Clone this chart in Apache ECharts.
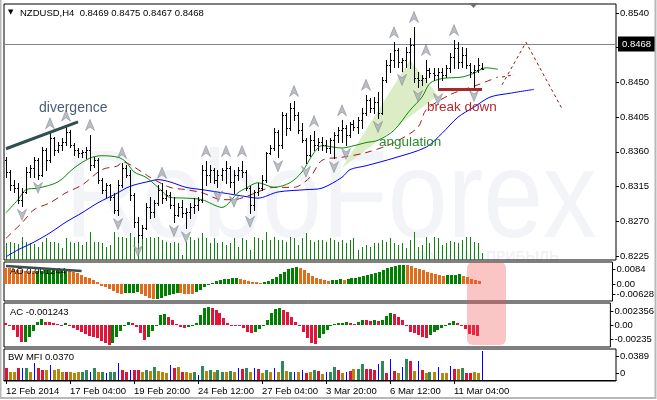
<!DOCTYPE html>
<html><head><meta charset="utf-8">
<script src="https://cdn.jsdelivr.net/npm/echarts@6/dist/echarts.min.js"></script>
<style>html,body{margin:0;padding:0;background:#fff}#c{width:657px;height:400px}</style>
</head><body><div id="c"></div>
<script>
// ---------------- DATA ----------------
const timeLabels = ['12 Feb 2014','17 Feb 04:00','19 Feb 20:00','24 Feb 12:00','27 Feb 04:00','3 Mar 20:00','6 Mar 12:00','11 Mar 04:00'];
const priceLabels = ['0.8540','0.8495','0.8450','0.8405','0.8360','0.8315','0.8270','0.8225'];
const aoTickLabels = ['0.0084','0.00','-0.00628'];
const acTickLabels = ['0.002356','0.00','-0.00235'];
const bwTickLabels = ['0.0389','0'];

const open = [0.8349,0.8334,0.8317,0.8313,0.8298,0.8308,0.8334,0.8339,0.8349,0.8330,0.8362,0.8349,0.8378,0.8362,0.8369,0.8373,0.8386,0.8369,0.8362,0.8359,
0.8360,0.8362,0.8343,0.8349,0.8324,0.8311,0.8317,0.8302,0.8285,0.8317,0.8339,0.8330,0.8304,0.8269,0.8252,0.8261,0.8289,0.8282,0.8294,0.8311,
0.8300,0.8304,0.8291,0.8278,0.8289,0.8281,0.8282,0.8289,0.8291,0.8298,0.8337,0.8330,0.8337,0.8324,0.8330,0.8337,0.8339,0.8321,0.8330,0.8337,
0.8334,0.8313,0.8291,0.8308,0.8313,0.8324,0.8359,0.8365,0.8386,0.8369,0.8408,0.8391,0.8417,0.8408,0.8388,0.8375,0.8356,0.8375,0.8369,0.8373,
0.8369,0.8365,0.8375,0.8382,0.8388,0.8391,0.8382,0.8396,0.8392,0.8401,0.8410,0.8427,0.8417,0.8424,0.8411,0.8453,0.8473,0.8479,0.8492,0.8477,
0.8479,0.8489,0.8499,0.8456,0.8453,0.8456,0.8466,0.8462,0.8460,0.8463,0.8460,0.8469,0.8483,0.8495,0.8477,0.8486,0.8473,0.8463,0.8466,0.8469];
const high = [0.8353,0.8337,0.8324,0.8320,0.8313,0.8340,0.8343,0.8353,0.8352,0.8366,0.8365,0.8384,0.8379,0.8373,0.8378,0.8394,0.8388,0.8372,0.8365,0.8362,
0.8366,0.8382,0.8353,0.8352,0.8326,0.8320,0.8318,0.8307,0.8324,0.8346,0.8343,0.8337,0.8307,0.8276,0.8265,0.8294,0.8302,0.8298,0.8317,0.8320,
0.8311,0.8308,0.8302,0.8294,0.8298,0.8287,0.8294,0.8300,0.8302,0.8343,0.8348,0.8343,0.8339,0.8337,0.8339,0.8348,0.8342,0.8337,0.8340,0.8348,
0.8337,0.8316,0.8311,0.8320,0.8330,0.8360,0.8369,0.8391,0.8388,0.8412,0.8410,0.8423,0.8426,0.8412,0.8397,0.8378,0.8382,0.8387,0.8378,0.8379,
0.8375,0.8378,0.8386,0.8392,0.8401,0.8395,0.8399,0.8401,0.8405,0.8417,0.8434,0.8430,0.8431,0.8437,0.8457,0.8479,0.8488,0.8502,0.8495,0.8482,
0.8496,0.8508,0.8522,0.8463,0.8460,0.8479,0.8469,0.8469,0.8469,0.8469,0.8473,0.8488,0.8505,0.8502,0.8496,0.8495,0.8475,0.8473,0.8482,0.8475];
const low = [0.8327,0.8311,0.8308,0.8294,0.8290,0.8307,0.8327,0.8327,0.8325,0.8329,0.8337,0.8347,0.8356,0.8360,0.8362,0.8369,0.8366,0.8356,0.8353,0.8353,
0.8352,0.8337,0.8340,0.8320,0.8307,0.8302,0.8298,0.8281,0.8278,0.8314,0.8327,0.8298,0.8263,0.8243,0.8248,0.8260,0.8274,0.8276,0.8291,0.8294,
0.8298,0.8287,0.8269,0.8277,0.8276,0.8261,0.8274,0.8281,0.8285,0.8295,0.8317,0.8321,0.8320,0.8314,0.8324,0.8320,0.8314,0.8307,0.8324,0.8327,
0.8311,0.8281,0.8285,0.8304,0.8311,0.8321,0.8357,0.8362,0.8353,0.8365,0.8382,0.8388,0.8401,0.8384,0.8373,0.8346,0.8355,0.8362,0.8362,0.8362,
0.8360,0.8359,0.8352,0.8373,0.8373,0.8369,0.8379,0.8388,0.8384,0.8391,0.8408,0.8412,0.8410,0.8404,0.8409,0.8451,0.8464,0.8470,0.8470,0.8465,
0.8470,0.8469,0.8451,0.8444,0.8447,0.8451,0.8457,0.8453,0.8440,0.8453,0.8457,0.8463,0.8469,0.8469,0.8470,0.8469,0.8457,0.8444,0.8463,0.8467];
const close = [0.8334,0.8317,0.8313,0.8298,0.8308,0.8334,0.8339,0.8349,0.8330,0.8362,0.8349,0.8378,0.8362,0.8369,0.8373,0.8386,0.8369,0.8362,0.8359,0.8360,
0.8362,0.8343,0.8349,0.8324,0.8311,0.8317,0.8302,0.8285,0.8317,0.8339,0.8330,0.8304,0.8269,0.8252,0.8261,0.8289,0.8282,0.8294,0.8311,0.8300,
0.8304,0.8291,0.8278,0.8289,0.8281,0.8282,0.8289,0.8291,0.8298,0.8337,0.8330,0.8337,0.8324,0.8330,0.8337,0.8339,0.8321,0.8330,0.8337,0.8334,
0.8313,0.8291,0.8308,0.8313,0.8324,0.8359,0.8365,0.8386,0.8369,0.8408,0.8391,0.8417,0.8408,0.8388,0.8375,0.8356,0.8375,0.8369,0.8373,0.8369,
0.8365,0.8375,0.8382,0.8388,0.8391,0.8382,0.8396,0.8392,0.8401,0.8410,0.8427,0.8417,0.8424,0.8411,0.8453,0.8473,0.8479,0.8492,0.8477,0.8479,
0.8489,0.8499,0.8456,0.8453,0.8456,0.8466,0.8462,0.8460,0.8463,0.8460,0.8469,0.8483,0.8495,0.8477,0.8486,0.8473,0.8463,0.8466,0.8473,0.8468];

const volume = [1700,1800,1700,1600,2300,1800,1700,1600,1300,1800,2200,1800,1800,1700,1200,2200,1800,1700,1800,1500,
1800,2800,1800,1800,1700,1300,1500,2800,2300,2300,2200,2700,2300,3000,2300,2200,2300,2200,2300,2000,
1800,1700,1800,1700,500,1800,2300,2000,2200,2700,2200,1700,2200,1700,1800,1500,1700,2200,1300,2200,
2000,1000,2300,2200,2000,2800,2000,2300,2000,2000,1800,2300,2200,1500,2200,2700,2000,1800,2000,2000,
1800,2200,2000,1800,2000,1700,2000,2200,1000,1300,1500,1300,1700,1700,2000,1800,2200,1700,1500,1700,
1200,2000,2800,1300,1500,2300,1700,2300,2200,1500,1700,1900,1800,1700,2000,2300,2300,1800,1700,700];

const fractalUp = [11,15,21,29,39,50,55,59,72,77,84,90,97,102,105,112];
const fractalDown = [4,8,28,33,42,45,53,57,61,68,75,82,85,93,99,103,108,117];

const maGreen = [[0,0.8281],[3,0.8298],[5,0.8311],[8,0.8313],[13,0.8321],[17,0.8339],[21,0.8352],[24,0.8355],[28,0.8353],[30,0.8347],[32,0.8334],[35,0.8327],[38,0.8314],[41,0.8301],[45,0.8300],[49,0.8298],[54,0.8288],[58,0.8307],[60,0.8313],[63,0.8320],[67,0.8314],[71,0.8320],[74,0.8334],[77,0.8359],[79,0.8368],[84,0.8365],[87,0.8368],[90,0.8372],[93,0.8375],[97,0.8388],[101,0.8414],[104,0.8431],[106,0.8449],[109,0.8455],[114,0.8457],[117,0.8462],[120,0.8469],[123,0.8467]];
const maRed = [[0,0.8248],[4,0.8268],[7,0.8285],[11,0.8294],[15,0.8307],[19,0.8317],[24,0.8337],[28,0.8342],[29,0.8347],[34,0.8334],[36,0.8327],[41,0.8314],[45,0.8311],[49,0.8307],[54,0.8298],[57,0.8298],[60,0.8302],[67,0.8314],[72,0.8314],[76,0.8327],[79,0.8349],[84,0.8353],[90,0.8359],[97,0.8372],[103,0.8392],[105,0.8414],[111,0.8434],[118,0.8447],[121,0.8453],[123,0.8457]];
const maBlue = [[0,0.8224],[3,0.8233],[7,0.8243],[11,0.8255],[15,0.8269],[19,0.8281],[23,0.8294],[28,0.8307],[30,0.8313],[32,0.8317],[36,0.8322],[38,0.8324],[41,0.8321],[45,0.8314],[49,0.8311],[54,0.8307],[60,0.8302],[63,0.8300],[68,0.8308],[75,0.8311],[79,0.8313],[84,0.8327],[86,0.8337],[90,0.8342],[97,0.8352],[105,0.8366],[109,0.8384],[113,0.8405],[117,0.8418],[121,0.8431],[126,0.8436],[132,0.8441]];

const ao = [0.00655,0.00628,0.00602,0.00575,0.00549,0.00536,0.00523,0.00509,0.00523,0.00536,0.00549,0.00562,0.00575,0.00589,0.00602,0.00615,0.00575,0.00496,0.00430,0.00364,
0.00298,0.00231,0.00152,0.00073,-0.00060,-0.00126,-0.00192,-0.00258,-0.00337,-0.00377,-0.00364,-0.00351,-0.00337,-0.00324,-0.00403,-0.00483,-0.00549,-0.00602,-0.00589,-0.00536,
-0.00483,-0.00430,-0.00390,-0.00351,-0.00364,-0.00377,-0.00390,-0.00403,-0.00324,-0.00218,-0.00112,-0.00033,0.00046,0.00126,0.00179,0.00205,0.00218,0.00231,0.00245,0.00205,
0.00165,0.00126,0.00099,0.00073,0.00046,0.00073,0.00126,0.00205,0.00284,0.00390,0.00496,0.00589,0.00642,0.00668,0.00655,0.00562,0.00430,0.00337,0.00258,0.00205,
0.00165,0.00139,0.00152,0.00179,0.00192,0.00179,0.00205,0.00231,0.00245,0.00271,0.00311,0.00351,0.00390,0.00430,0.00496,0.00562,0.00642,0.00694,0.00734,0.00761,
0.00774,0.00747,0.00708,0.00655,0.00602,0.00549,0.00496,0.00443,0.00403,0.00364,0.00337,0.00351,0.00364,0.00377,0.00390,0.00337,0.00271,0.00218,0.00165,0.00126];

const ac = [0.000200,-0.000075,-0.000584,-0.001369,-0.002035,-0.001996,-0.001369,-0.000702,0.000396,0.000710,0.000396,0.000357,0.000278,0.000082,-0.000016,0.000239,-0.000075,-0.000310,-0.000584,-0.000859,
-0.001094,-0.001251,-0.001369,-0.001565,-0.001878,-0.002153,-0.002349,-0.002153,-0.001369,-0.000702,-0.000075,0.000396,0.000200,-0.000192,-0.000976,-0.001761,-0.001369,-0.000702,0.000004,0.001180,
0.001259,0.000984,0.000592,0.000082,-0.000192,-0.000388,-0.000192,-0.000075,0.000200,0.001180,0.001965,0.002161,0.002043,0.001769,0.001376,0.000867,0.000200,-0.000035,-0.000075,-0.000153,
-0.000388,-0.000780,-0.000976,-0.000859,-0.000467,-0.000075,0.000592,0.001376,0.001847,0.001965,0.001769,0.001494,0.000984,0.000396,0.000004,-0.000780,-0.001565,-0.002153,-0.002271,-0.001565,
-0.001094,-0.000624,-0.000153,0.000122,0.000239,0.000278,0.000357,0.000200,0.000161,0.000396,0.000592,0.000553,0.000514,0.000592,0.000514,0.000631,0.001063,0.001376,0.001259,0.000984,
0.000592,-0.000075,-0.000859,-0.000976,-0.001173,-0.001369,-0.001486,-0.001173,-0.000859,-0.000584,-0.000310,-0.000075,0.000200,0.000475,0.000278,-0.000075,-0.000467,-0.001055,-0.001173,-0.001243];

const bwMfi = [0.01513,0.00994,0.01081,0.01513,0.01513,0.01600,0.00994,0.02162,0.01513,0.01297,0.01297,0.01946,0.01297,0.01427,0.01081,0.01081,0.00994,0.00908,0.00994,0.01081,
0.01297,0.00994,0.01513,0.00994,0.00994,0.00865,0.01081,0.00994,0.02162,0.01297,0.00994,0.01297,0.01297,0.01297,0.00994,0.01297,0.01167,0.01729,0.01167,0.01081,
0.00865,0.01946,0.01513,0.01729,0.00994,0.00994,0.00865,0.01081,0.00649,0.01816,0.01167,0.01297,0.01081,0.01297,0.01081,0.00994,0.01167,0.01081,0.01513,0.01427,
0.01513,0.00994,0.01513,0.01427,0.00865,0.01297,0.01081,0.01513,0.00994,0.02464,0.01167,0.00994,0.01081,0.00994,0.01297,0.00865,0.00994,0.01297,0.01167,0.00735,
0.01081,0.01081,0.01643,0.01297,0.00865,0.01081,0.01167,0.01427,0.01427,0.02032,0.01427,0.01427,0.01297,0.02075,0.02464,0.00908,0.02724,0.01211,0.00865,0.01729,
0.02724,0.02464,0.01167,0.02464,0.01297,0.00865,0.00994,0.00994,0.01729,0.00865,0.00865,0.01859,0.01427,0.01427,0.01600,0.00865,0.00865,0.01081,0.00865,0.03700];
const bwClass = ['p','b','b','p','u','g','b','u','p','p','b','u','b','b','b','p','b','b','b','g',
'g','u','g','b','g','u','g','g','u','p','p','u','p','p','b','g','b','g','b','b',
'b','u','p','b','p','b','b','g','u','g','b','g','b','g','g','b','g','b','u','p',
'g','b','u','p','b','g','b','u','b','g','b','g','u','b','u','p','b','g','p','b',
'u','g','g','p','b','u','p','b','g','g','p','p','p','u','g','p','u','p','b','u',
'g','p','b','u','p','b','g','b','u','b','b','u','p','b','g','p','p','b','b','u'];

// annotations (category index, value)
const divergenceMain = [[0,0.8364],[18,0.8399]];
const divergenceAO = [[0,0.00721],[19,0.00523]];
const breakDownLine = [[108,0.8441],[119,0.8441]];
const forecastPath = [[124,0.8447],[130,0.8502],[139,0.8416]];
const forecastShort = [[124,0.8457],[127,0.8460]];
const angulationZone = [[84,0.8339],[101,0.8479],[108,0.8433]];
const lastPrice = 0.8468;

// ---------------- LAYOUT ----------------
const N = 153, EVERY = 16;
const cats = Array.from({length:N}, (_, i) => (i % EVERY === 0 && i / EVERY < timeLabels.length) ? timeLabels[i / EVERY] : '');
const FONT = '"Liberation Sans", Arial, sans-serif';
const FS = 9.5;
const L = 4, W = 612;
const mainMin = 0.82198, mainMax = 0.85517;

function padScale(top, bot, px, padTop, padBot){
  const u = (top - bot) / px;
  return {min: bot - padBot*u, max: top + padTop*u, u};
}
const aoS = padScale(0.0084, -0.00628, 37, 1, 1);
const acS = padScale(0.002356, -0.00235, 40, 2, 2);
const bwS = padScale(0.0389, 0, 30, 1, 1);

function labelAxis(gi, s, vals, texts){
  return {type:'value', gridIndex:gi, position:'right', min:s.min, max:s.max, scale:true,
    splitLine:{show:false}, axisLine:{show:false},
    axisTick:{show:true, length:3, lineStyle:{color:'#000'}, customValues: vals},
    axisLabel:{color:'#000', fontSize:FS, fontFamily:FONT, margin:4, customValues: vals,
      formatter: v => { let b=0, d=1e9; vals.forEach((p,k)=>{const dd=Math.abs(p-v); if(dd<d){d=dd;b=k;}}); return texts[b]; }}};
}
const aoLabVals = [0.0084 - 6*aoS.u, 0, -0.00628 + 6*aoS.u];
const acLabVals = [0.002356 - 6*acS.u, 0, -0.00235 + 6*acS.u];
const bwLabVals = [0.0389 - 6*bwS.u, 0 + 7*bwS.u];
const priceVals = priceLabels.map(Number);

const GREEN = '#008000', ORANGE = '#e06c1c', ACRED = '#e2143c';
const aoColors = ao.map((v, i) => (i > 0 && v > ao[i-1]) ? GREEN : ORANGE);
const acColors = ac.map((v, i) => (i > 0 && v > ac[i-1]) ? GREEN : ACRED);
const bwColorMap = {g:'#2e8b57', b:'#b8860b', u:'#0000ff', p:'#dc143c'};

function histSeries(xi, vals, colorFn, widthFn){
  return {type:'custom', xAxisIndex:xi, yAxisIndex:xi, data: vals.map((v,i)=>[i,v]),
    renderItem: (params, api) => {
      const i = api.value(0), v = api.value(1);
      const p = api.coord([i, v]), z = api.coord([i, 0]);
      const w = widthFn(params.dataIndex);
      const fx = Math.floor(p[0]);
      const x = w === 1 ? fx : fx - 1;
      const y0 = Math.round(Math.min(p[1], z[1])), y1 = Math.round(Math.max(p[1], z[1]));
      return {type:'rect', shape:{x, y:y0, width:w, height:Math.max(1, y1-y0)}, style:{fill: colorFn(params.dataIndex)}};
    }, z:3, silent:true};
}

const xAxes = [0,1,2,3,4].map(gi => ({type:'category', gridIndex:gi, data:cats, boundaryGap:true,
  axisLine:{show: gi===4, lineStyle:{color:'#000'}},
  axisTick:{show: gi===4, alignWithLabel:true, length:4, lineStyle:{color:'#000'}, interval:(idx, val)=> val !== ''},
  axisLabel:{show: gi===4, interval:0, align:'left', color:'#000', fontSize:FS, fontFamily:FONT, margin:5}}));

const upArrow = 'path://M5,0 L10,11 L5,7.5 L0,11 Z';
const downArrow = 'path://M5,11 L10,0 L5,3.5 L0,0 Z';

const option = {
  animation:false,
  backgroundColor:'#fff',
  grid:[
    {left:L, top:4, width:W, height:256, show:true, borderColor:'#000', borderWidth:1, backgroundColor:'transparent'},
    {left:L, top:228, width:W, height:32, show:false},
    {left:L, top:262, width:W, height:39, show:true, borderColor:'#000', borderWidth:1},
    {left:L, top:303, width:W, height:44, show:true, borderColor:'#000', borderWidth:1},
    {left:L, top:349, width:W, height:32, show:true, borderColor:'#000', borderWidth:1}
  ],
  xAxis: xAxes,
  yAxis:[
    {type:'value', gridIndex:0, position:'right', min:mainMin, max:mainMax, splitLine:{show:false}, axisLine:{show:false},
     axisTick:{show:true, length:3, lineStyle:{color:'#000'}, customValues: priceVals},
     axisLabel:{color:'#000', fontSize:FS, fontFamily:FONT, margin:4, customValues: priceVals, formatter: v => v.toFixed(4)}},
    {type:'value', gridIndex:1, min:0, max:3200, show:false},
    labelAxis(2, aoS, aoLabVals, aoTickLabels),
    labelAxis(3, acS, acLabVals, acTickLabels),
    labelAxis(4, bwS, bwLabVals, bwTickLabels)
  ],
  series:[
    {type:'custom', xAxisIndex:0, yAxisIndex:0, data:[[0,0]], z:1, silent:true,
     renderItem:(params, api) => ({type:'polygon', shape:{points: angulationZone.map(p => api.coord(p))}, style:{fill:'#dcecc4'}})},
    histSeries(1, volume, () => '#138013', () => 1),
    {type:'line', xAxisIndex:0, yAxisIndex:0, data:maBlue, showSymbol:false, smooth:0.3, lineStyle:{color:'#0000ff', width:1}, z:4, silent:true},
    {type:'line', xAxisIndex:0, yAxisIndex:0, data:maRed, showSymbol:false, smooth:0.3, lineStyle:{color:'#a01a1a', width:1, type:[7,5]}, z:4, silent:true},
    {type:'line', xAxisIndex:0, yAxisIndex:0, data:maGreen, showSymbol:false, smooth:0.3, lineStyle:{color:'#0a8a0a', width:1}, z:4, silent:true},
    {type:'custom', xAxisIndex:0, yAxisIndex:0, z:5, silent:true,
     data: open.map((o,i)=>[i,o,high[i],low[i],close[i]]),
     encode:{x:0, y:[1,2,3,4]},
     renderItem:(params, api) => {
       const i = api.value(0);
       const po = api.coord([i, api.value(1)]);
       const yH = api.coord([i, api.value(2)])[1];
       const yL = api.coord([i, api.value(3)])[1];
       const yC = api.coord([i, api.value(4)])[1];
       const fx = Math.floor(po[0]);
       const st = {stroke:'#000', lineWidth:1};
       const yo = Math.round(po[1]) + 0.5, yc = Math.round(yC) + 0.5;
       return {type:'group', children:[
         {type:'line', shape:{x1:fx+0.5, y1:Math.round(yH), x2:fx+0.5, y2:Math.round(yL)+1}, style:st},
         {type:'line', shape:{x1:fx-1, y1:yo, x2:fx, y2:yo}, style:st},
         {type:'line', shape:{x1:fx+1, y1:yc, x2:fx+2, y2:yc}, style:st}
       ]};
     },
     markLine:{silent:true, symbol:'none', data:[{yAxis:lastPrice}],
       lineStyle:{color:'#7d8590', width:1, type:'solid'},
       label:{show:true, position:'end', formatter: () => lastPrice.toFixed(4), color:'#fff', backgroundColor:'#000',
              fontSize:FS, fontFamily:FONT, padding:[3,4,2,4], distance:2}}},
    {type:'scatter', xAxisIndex:0, yAxisIndex:0, z:6, silent:true, symbol:upArrow, symbolSize:[9,11], symbolOffset:[0,-10],
     data: fractalUp.map(i => [i, high[i]]), itemStyle:{color:'#a9afb7', borderColor:'#737981', borderWidth:0.6}},
    {type:'scatter', xAxisIndex:0, yAxisIndex:0, z:6, silent:true, symbol:downArrow, symbolSize:[9,11], symbolOffset:[0,9],
     data: fractalDown.map(i => [i, low[i]]), itemStyle:{color:'#a9afb7', borderColor:'#737981', borderWidth:0.6}},
    {type:'line', xAxisIndex:0, yAxisIndex:0, data:divergenceMain, showSymbol:false, lineStyle:{color:'#2f4f4f', width:3}, z:7, silent:true},
    {type:'line', xAxisIndex:0, yAxisIndex:0, data:breakDownLine, showSymbol:false, lineStyle:{color:'#a52a2a', width:3}, z:7, silent:true},
    {type:'line', xAxisIndex:0, yAxisIndex:0, data:forecastPath, showSymbol:false, lineStyle:{color:'#a01515', width:1, type:[3,3]}, z:7, silent:true},
    {type:'line', xAxisIndex:0, yAxisIndex:0, data:forecastShort, showSymbol:false, lineStyle:{color:'#a01515', width:1, type:[3,3]}, z:7, silent:true},
    histSeries(2, ao, i => aoColors[i], () => 3),
    {type:'line', xAxisIndex:2, yAxisIndex:2, data:divergenceAO, showSymbol:false, lineStyle:{color:'#3e4e4e', width:2.5}, z:7, silent:true},
    histSeries(3, ac, i => acColors[i], () => 3),
    histSeries(4, bwMfi, i => bwColorMap[bwClass[i]], i => bwClass[i] === 'u' ? 1 : 3)
  ],
  graphic:[
    {type:'text', z:-5, left:65, top:140, silent:true, scaleX:0.86,
     style:{text:'RoboForex', font:'125px "Liberation Sans", Arial, sans-serif', fill:'#f2f4f7'}},
    {type:'text', z:-5, left:413, top:250, silent:true,
     style:{text:'ПОЛУЧАЙ ПРИБЫЛЬ', font:'bold 14px "Liberation Sans", Arial, sans-serif', fill:'#f0f2f5'}},
    {type:'text', z:50, left:8, top:9, style:{text:'▼', font:'7px "DejaVu Sans"', fill:'#000'}},
    {type:'text', z:50, left:20, top:8, style:{text:'NZDUSD,H4  0.8469 0.8475 0.8467 0.8468', font:FS+'px '+FONT, fill:'#000'}},
    {type:'text', z:50, left:39, top:101, style:{text:'divergence', font:'14px '+FONT, fill:'#4c5c78'}},
    {type:'text', z:50, left:379, top:135, style:{text:'angulation', font:'13.5px '+FONT, fill:'#2b8a2b'}},
    {type:'text', z:50, left:427, top:100, style:{text:'break down', font:'13.5px '+FONT, fill:'#b52a2a'}},
    {type:'text', z:5, left:10, top:266, style:{text:'AO 0.001244', font:FS+'px '+FONT, fill:'#000'}},
    {type:'text', z:50, left:10, top:307, style:{text:'AC -0.001243', font:FS+'px '+FONT, fill:'#000'}},
    {type:'text', z:50, left:8, top:352, style:{text:'BW MFI 0.0370', font:FS+'px '+FONT, fill:'#000'}},
    {type:'rect', z:60, shape:{x:467, y:262, width:39, height:83, r:6}, style:{fill:'rgba(240,80,80,0.33)'}},
    {type:'polygon', z:60, shape:{points:[[469,3],[478,3],[473.5,8]]}, style:{fill:'#6b7078'}},
    {type:'rect', z:60, shape:{x:0.5, y:-1, width:655, height:399}, style:{fill:'none', stroke:'#b8b8b8', lineWidth:2}}
  ]
};
const chart = echarts.init(document.getElementById('c'), null, {renderer:'canvas'});
chart.setOption(option);
</script></body></html>
